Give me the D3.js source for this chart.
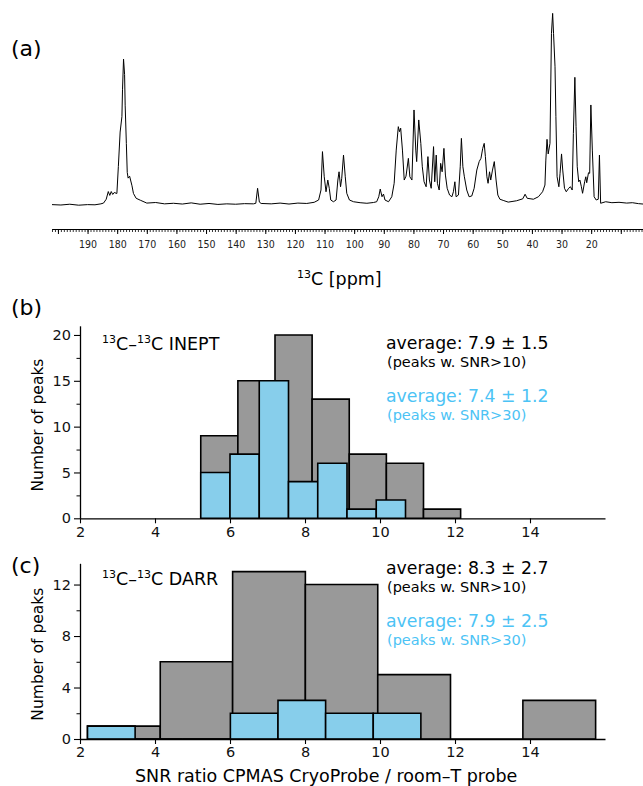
<!DOCTYPE html>
<html>
<head>
<meta charset="utf-8">
<title>CryoProbe SNR</title>
<script src="https://cdnjs.cloudflare.com/ajax/libs/d3/7.8.5/d3.min.js"></script>
<style>
  body { margin: 0; background: #fff; }
  svg { display: block; font-family: "DejaVu Sans", sans-serif; }
</style>
</head>
<body>
<script>
// spectrum trace (ppm, intensity in arb. units, tallest = 100)
const specPpm = [202,199,196,193,190,187.5,185.5,184.6,183.7,183.0,182.5,182.0,181.5,181.0,180.1,179.6,179.0,178.4,178.2,177.85,177.5,177.3,176.9,176.6,176.3,175.8,175.4,175.0,174.5,173.6,172.2,170.0,167,164,161,158,155,152,149,146,143,140,137,134,133.2,132.6,132.0,131.4,128,125,122,119,116,113.5,112.0,111.2,110.7,110.1,109.5,108.9,108.4,107.9,107.0,106.1,105.5,105.1,104.6,104.2,103.6,103.0,102.5,101.6,100.2,98,95.7,93.5,92.4,91.7,91.2,90.6,90.1,89.6,88.4,87.3,86.5,85.8,85.1,84.7,84.3,83.7,83.1,82.5,81.7,81.2,80.5,79.8,79.2,78.9,78.2,77.5,77.0,76.4,75.7,75.1,74.6,74.0,73.2,72.8,72.3,71.9,71.3,70.8,70.3,69.7,69.2,68.6,67.8,67.0,66.5,66.0,65.6,64.8,64.2,63.8,63.3,62.8,62.0,61.2,60.3,59.5,58.6,57.8,57.2,56.6,56.1,55.7,55.2,54.8,54.3,53.9,53.3,52.7,52.1,51.5,50.8,49.7,48.0,45.2,43.1,42.3,41.6,39.5,37.8,36.4,35.6,35.3,34.9,34.5,33.9,33.4,33.0,32.7,32.2,31.9,31.5,30.9,30.5,30.0,29.6,29.0,28.4,27.6,27.0,26.4,26.0,25.5,25.1,24.7,24.2,23.8,23.3,22.9,22.2,21.8,21.5,20.9,20.5,20.1,19.6,19.0,18.3,17.6,17.2,16.8,15.1,13,10.6,8,6.1,4,2.5];
const specInt = [0.2,0.0,0.4,-0.1,0.2,0.1,0.6,1.0,3,7,5,7,5.5,6.5,6,20,38,46,60,76,68,52,32,17,14,15,12.5,10,6,3.5,2.5,1.0,1.3,0.6,0.9,0.5,1.1,0.4,0.8,0.3,0.6,0.4,0.7,0.6,0.9,8.7,1.5,0.8,0.6,1.0,0.5,1.0,0.8,1.4,2.6,7.8,27.8,14.7,6.9,13,8.7,2.6,1.7,2.6,13,17.3,9.5,13.9,26,14.7,6.1,2.6,1.7,1.2,0.9,1.3,1.7,4.3,8.3,4.3,5.7,2.6,1.7,4.3,11.3,28.6,40.8,38.2,40,28.6,13,15,24.3,14.7,13,49.5,28.6,22.6,44.3,32.1,19.9,12.1,9.5,25.2,13,8.7,30.4,12.1,26,11.3,7.8,21.7,17.3,29.5,15.6,8.7,5.2,4.3,6.9,12.1,4.3,5.2,19.9,34.7,19.9,14.7,7.8,4.3,4.7,8.7,18.2,22.6,24.3,29.5,32.1,25.2,14.7,11.3,17.3,13,18.2,22.6,13,5.2,3.0,2.4,1.5,2.2,3.2,5.6,3.5,3.0,4.3,6.9,10.4,23.4,34.2,26.6,32.1,89.4,99.8,89.4,72,46,14.7,9.5,16.5,26.6,18.2,8.7,6.9,8.7,9.5,7.8,37.3,66.5,40.8,19.9,12.1,13,9.5,6.1,12.1,14.7,11.6,16.8,16.5,52.1,28.6,4.3,2.6,3.0,26,0.9,1.7,1.2,1.4,1.0,1.2,0.7,0.5];
const ppmLabels = [190,180,170,160,150,140,130,120,110,100,90,80,70,60,50,40,30,20];

// (b) INEPT histograms: bin edges and counts
const ineptAllEdges = [5.22,6.21,7.20,8.19,9.18,10.17,11.16,12.15];
const ineptAllCounts = [9,15,20,13,7,6,1];
const ineptHiEdges = [5.22,6.00,6.78,7.56,8.34,9.12,9.90,10.68];
const ineptHiCounts = [5,7,15,4,6,1,2];
const ineptYTicks = [0,5,10,15,20];
const ineptYMinor = [2.5,7.5,12.5,17.5];

// (c) DARR histograms
const darrAllEdges = [2.20,4.14,6.07,8.01,9.94,11.88,13.81,15.75];
const darrAllCounts = [1,6,13,12,5,0,3];
const darrHiEdges = [2.20,3.47,4.74,6.01,7.28,8.55,9.82,11.09];
const darrHiCounts = [1,0,0,2,3,2,2];
const darrYTicks = [0,4,8,12];
const darrYMinor = [2,6,10];

const snrTicks = [2,4,6,8,10,12,14];

const grayFill = "#999999", blueFill = "#87ceeb", blueText = "#4cc3f5";

const svg = d3.select("body").append("svg")
  .attr("width", 643).attr("height", 786);
svg.append("rect").attr("width", 643).attr("height", 786).attr("fill", "#fff");

// ---------- (a) spectrum ----------
const xS = d3.scaleLinear().domain([202, 2.5]).range([52, 643]);
const yS = d3.scaleLinear().domain([0, 100]).range([205, 13]);

const spec = specPpm.map((p, i) => ({p: p, v: specInt[i]}));
svg.append("path").datum(spec)
  .attr("d", d3.line().x(d => xS(d.p)).y(d => yS(d.v)))
  .attr("fill", "none").attr("stroke", "#000").attr("stroke-width", 1)
  .attr("stroke-linejoin", "round");

const axA = svg.append("g").attr("transform", "translate(0,229)");
axA.call(d3.axisBottom(xS).tickValues(d3.range(3, 203)).tickSize(3).tickSizeOuter(0).tickFormat(""));
axA.call(g => g.selectAll(".tick line").attr("stroke-width", 0.8));
const axA2 = svg.append("g").attr("transform", "translate(0,229)");
axA2.call(d3.axisBottom(xS).tickValues(d3.range(10, 201, 10)).tickSize(5).tickSizeOuter(0)
  .tickFormat(d => ppmLabels.includes(d) ? d : ""));
axA2.selectAll("text").attr("font-family", "DejaVu Sans Condensed, DejaVu Sans")
  .attr("font-size", 10.5).attr("fill", "#222").attr("dy", "1.05em");
axA2.select(".domain").attr("stroke-width", 1.2);

const xlabA = svg.append("text").attr("x", 297).attr("y", 285).attr("font-size", 17.5);
xlabA.append("tspan").attr("font-size", 11).attr("dy", -7).text("13");
xlabA.append("tspan").attr("dy", 7).text("C [ppm]");

svg.append("text").attr("x", 11).attr("y", 56).attr("font-size", 22).text("(a)");

// ---------- histogram panels ----------
const xH = d3.scaleLinear().domain([2, 16]).range([80, 605]);

function isoLabel(sel, x, y, rest) {
  const t = sel.append("text").attr("x", x).attr("y", y).attr("font-size", 17.5);
  t.append("tspan").attr("font-size", 11).attr("dy", -7).text("13");
  t.append("tspan").attr("dy", 7).text("C–");
  t.append("tspan").attr("font-size", 11).attr("dy", -7).text("13");
  t.append("tspan").attr("dy", 7).text("C " + rest);
}

function barPath(x0, x1, y0, y1) {
  return `M${x0},${y0}V${y1}H${x1}V${y0}Z`;
}

function panel(opt) {
  const yH = d3.scaleLinear().domain([0, opt.ymax]).range([opt.y0, opt.y1]);
  const g = svg.append("g");

  const drawBars = (edges, counts, fill) => {
    g.selectAll(null).data(counts).enter().append("path")
      .attr("d", (c, i) => barPath(xH(edges[i]), xH(edges[i + 1]), yH(0), yH(c)))
      .attr("fill", fill).attr("stroke", "#000").attr("stroke-width", 1.6)
      .attr("stroke-linejoin", "miter");
  };
  drawBars(opt.allEdges, opt.allCounts, grayFill);
  drawBars(opt.hiEdges, opt.hiCounts, blueFill);

  const ax = g.append("g").attr("transform", `translate(0,${opt.y0})`)
    .call(d3.axisBottom(xH).tickValues(snrTicks).tickSize(5).tickSizeOuter(0).tickPadding(3));
  const ay = g.append("g").attr("transform", "translate(80,0)")
    .call(d3.axisLeft(yH).tickValues(opt.yTicks).tickSize(6).tickSizeOuter(0).tickPadding(3));
  g.append("g").attr("transform", "translate(80,0)")
    .call(d3.axisLeft(yH).tickValues(opt.yMinor).tickSize(3.5).tickSizeOuter(0).tickFormat(""))
    .select(".domain").remove();
  [ax, ay].forEach(a => {
    a.selectAll("text").attr("font-family", "DejaVu Sans").attr("font-size", 14.5).attr("fill", "#111");
    a.select(".domain").attr("stroke-width", 1.3);
    a.selectAll(".tick line").attr("stroke-width", 1.1);
  });

  g.append("text")
    .attr("transform", `translate(43,${(opt.y0 + opt.y1) / 2 + 3}) rotate(-90)`)
    .attr("text-anchor", "middle").attr("font-size", 15.5).text("Number of peaks");

  isoLabel(g, 102, opt.labelY, opt.name);

  g.append("text").attr("x", 386).attr("y", opt.avgY).attr("font-size", 17.3).text(opt.avgAll);
  g.append("text").attr("x", 387).attr("y", opt.avgY + 18).attr("font-size", 14.5).text("(peaks w. SNR>10)");
  g.append("text").attr("x", 386).attr("y", opt.avgY + 53).attr("font-size", 17.3)
    .attr("fill", blueText).text(opt.avgHi);
  g.append("text").attr("x", 387).attr("y", opt.avgY + 71).attr("font-size", 14.5)
    .attr("fill", blueText).text("(peaks w. SNR>30)");

  svg.append("text").attr("x", 11).attr("y", opt.tagY).attr("font-size", 22).text(opt.tag);
}

panel({
  tag: "(b)", tagY: 315, name: "INEPT", labelY: 350,
  y0: 518.3, y1: 325.8, ymax: 21,
  allEdges: ineptAllEdges, allCounts: ineptAllCounts,
  hiEdges: ineptHiEdges, hiCounts: ineptHiCounts,
  yTicks: ineptYTicks, yMinor: ineptYMinor,
  avgY: 349, avgAll: "average: 7.9 ± 1.5", avgHi: "average: 7.4 ± 1.2"
});

panel({
  tag: "(c)", tagY: 573, name: "DARR", labelY: 585,
  y0: 739, y1: 563.3, ymax: 13.65,
  allEdges: darrAllEdges, allCounts: darrAllCounts,
  hiEdges: darrHiEdges, hiCounts: darrHiCounts,
  yTicks: darrYTicks, yMinor: darrYMinor,
  avgY: 574, avgAll: "average: 8.3 ± 2.7", avgHi: "average: 7.9 ± 2.5"
});

svg.append("text").attr("x", 135).attr("y", 782).attr("font-size", 17.5)
  .text("SNR ratio CPMAS CryoProbe / room–T probe");
</script>
</body>
</html>
